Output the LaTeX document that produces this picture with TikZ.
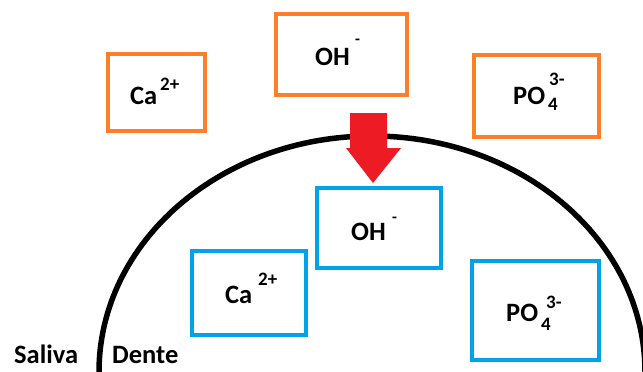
\documentclass[tikz,border=0pt]{standalone}
\usepackage{fontspec}
\setmainfont{Carlito}
\definecolor{boxorange}{RGB}{255,127,39}
\definecolor{boxblue}{RGB}{0,162,232}
\definecolor{arrowred}{RGB}{237,28,36}
\tikzset{
  ionbox/.style={draw, line width=4.5pt, inner sep=0pt, fill=none},
  obox/.style={ionbox, draw=boxorange},
  bbox/.style={ionbox, draw=boxblue},
  maintxt/.style={anchor=base west, inner sep=0pt, font=\fontsize{26.5}{26.5}\selectfont\bfseries},
  suptxt/.style={anchor=base west, inner sep=0pt, font=\fontsize{19}{19}\selectfont\bfseries},
  dashtxt/.style={anchor=base west, inner sep=0pt, font=\fontsize{16}{16}\selectfont\bfseries},
}
\begin{document}
\begin{tikzpicture}[x=1pt,y=-1pt]
\useasboundingbox (0,0) rectangle (643,372);
\clip (0,0) rectangle (643,372);
% tooth outline
\draw[line width=5.5pt] (99,372) arc[start angle=180, end angle=0, x radius=273pt, y radius=236pt];
% boxes
\node[obox, minimum width=97pt, minimum height=77pt] (oca) at (156.5,92.5) {};
\node[obox, minimum width=131pt, minimum height=81pt] (ooh) at (341.5,54.5) {};
\node[obox, minimum width=125pt, minimum height=82pt] (opo) at (536.5,96) {};
\node[bbox, minimum width=124pt, minimum height=80pt] (boh) at (379,228) {};
\node[bbox, minimum width=114pt, minimum height=84pt] (bca) at (249,293) {};
\node[bbox, minimum width=127pt, minimum height=99pt] (bpo) at (535.5,310.5) {};
% red arrow
\fill[arrowred] (350,113) -- (387,113) -- (387,148) -- (401,148) -- (373,183) -- (346,148) -- (350,148) -- cycle;
% texts orange
\node[maintxt] (t1) at (130,104) {Ca};
\node[suptxt] (t1s) at (160,90) {2+};
\node[maintxt] (t2) at (315,65) {OH};
\node[dashtxt] (t2s) at (355,45) {-};
\node[maintxt] (t3) at (513,104) {PO};
\node[suptxt] (t3b) at (548,110) {4};
\node[suptxt] (t3s) at (549,85) {3-};
% texts blue
\node[maintxt] (t4) at (225,303) {Ca};
\node[suptxt] (t4s) at (258,285) {2+};
\node[maintxt] (t5) at (351,240) {OH};
\node[dashtxt] (t5s) at (392,222) {-};
\node[maintxt] (t6) at (506,321) {PO};
\node[suptxt] (t6b) at (541,330) {4};
\node[suptxt] (t6s) at (546,308) {3-};
% labels
\node[maintxt] (sal) at (14,363) {Saliva};
\node[maintxt] (den) at (112,363) {Dente};
\end{tikzpicture}
\end{document}
